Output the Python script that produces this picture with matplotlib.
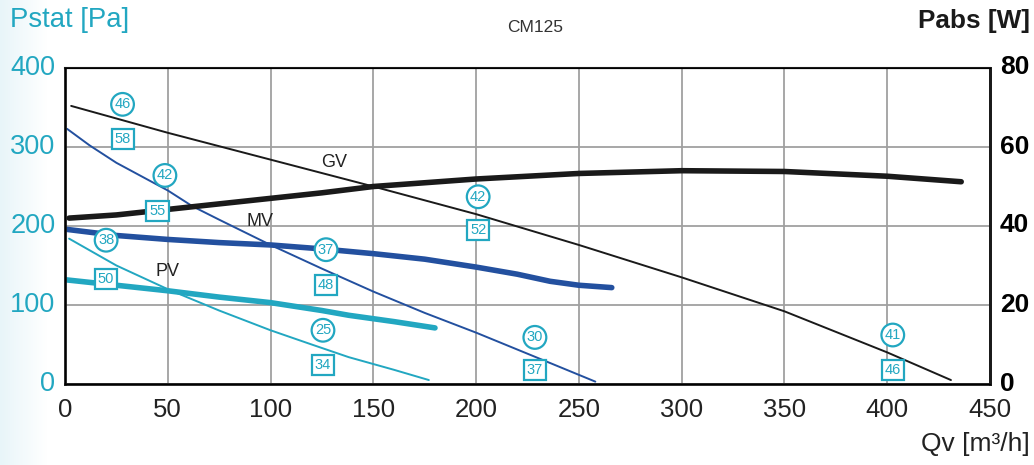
import numpy as np
import matplotlib
matplotlib.use("Agg")
import matplotlib.pyplot as plt
import matplotlib.transforms as mtransforms
from matplotlib.colors import LinearSegmentedColormap
from matplotlib.font_manager import fontManager

names = {f.name for f in fontManager.ttflist}
BASE = "Liberation Sans" if "Liberation Sans" in names else "DejaVu Sans"
NARROW = "Liberation Sans Narrow" if "Liberation Sans Narrow" in names else BASE
plt.rcParams['font.family'] = [BASE, 'DejaVu Sans']

# ---- data ----
# system curves (thin lines), Pstat [Pa]
gv_sys_q = [3, 50, 100, 150, 200, 250, 300, 350, 400, 431]
gv_sys_p = [352, 318, 284, 250, 215, 176, 135, 92, 40, 5]
mv_sys_q = [1, 12, 25, 50, 62, 75, 100, 125, 150, 175, 200, 230, 258]
mv_sys_p = [323, 302, 280, 245, 225, 208, 176, 146, 117, 90, 65, 33, 3]
pv_sys_q = [2, 25, 50, 75, 100, 120, 138, 160, 177]
pv_sys_p = [184, 150, 120, 93, 68, 50, 34, 18, 5]
# fan curves (thick lines)
gv_fan_q = [2, 25, 50, 75, 100, 125, 150, 200, 250, 300, 350, 400, 436]
gv_fan_p = [210, 214, 221, 228, 235, 242, 250, 259.5, 266.5, 270, 269, 263, 256]
mv_fan_q = [0, 25, 50, 75, 100, 125, 150, 175, 200, 220, 236, 250, 266]
mv_fan_p = [196, 188, 183, 179, 176, 171, 165, 158, 148, 139, 130, 125, 122]
pv_fan_q = [0, 25, 50, 75, 100, 125, 138, 160, 180]
pv_fan_p = [132, 125, 118, 110, 103, 93, 87, 79, 71]

# operating point labels: (q, p, text)
circle_labels = [(28, 354, "46"), (48.6, 264, "42"), (20, 182, "38"), (127, 170, "37"),
                 (125.5, 68, "25"), (201, 237, "42"), (228.6, 59, "30"), (402.7, 62, "41")]
square_labels = [(28, 310, "58"), (45, 219, "55"), (20, 133, "50"), (127, 125, "48"),
                 (125.5, 24, "34"), (201, 195, "52"), (228.6, 18, "37"), (402.7, 18, "46")]
curve_names = [(131, 281, "GV"), (95, 206, "MV"), (50, 143, "PV")]

x_ticks = [0, 50, 100, 150, 200, 250, 300, 350, 400, 450]
y_ticks = [0, 100, 200, 300, 400]
y2_ticks = [0, 20, 40, 60, 80]

CYAN = "#22a7c1"
BLUE = "#23509f"
BLACK = "#1a1a1a"

fig = plt.figure(figsize=(10.34, 4.65), dpi=100)

# left light gradient
bg = fig.add_axes([0, 0, 0.045, 1], zorder=-10)
grad = np.linspace(0, 1, 100)[None, :]
cm = LinearSegmentedColormap.from_list("g", ["#e8f5f9", "#ffffff"])
bg.imshow(grad, aspect="auto", cmap=cm, extent=[0, 1, 0, 1])
bg.axis("off")

ax = fig.add_axes([65/1034, 1-384/465, 925/1034, 316/465])
ax.set_xlim(0, 450)
ax.set_ylim(0, 400)
ax.set_xticks(x_ticks)
ax.set_yticks(y_ticks)
ax.grid(True, color="#a0a0a0", linewidth=1.3)
ax.set_axisbelow(True)
ax.tick_params(length=0)
ax.tick_params(axis='x', labelsize=18.5, pad=10, labelcolor="#222222")
ax.tick_params(axis='y', labelsize=19.5, pad=7, labelcolor=CYAN)
for s in ax.spines.values():
    s.set_color(BLACK)
    s.set_linewidth(2)
ax.spines['top'].set_linewidth(1.5)

ax2 = ax.twinx()
ax2.set_ylim(0, 80)
ax2.set_yticks(y2_ticks)
ax2.tick_params(length=0, labelsize=19, pad=7)
for lab in ax2.get_yticklabels():
    lab.set_fontweight("bold")
ax2.spines['right'].set_linewidth(2)
ax2.spines['right'].set_color(BLACK)

up = mtransforms.ScaledTranslation(0, 3/100, fig.dpi_scale_trans)
for lab in ax.get_yticklabels() + ax2.get_yticklabels():
    lab.set_transform(lab.get_transform() + up)

ax.plot(gv_sys_q, gv_sys_p, color=BLACK, lw=1.4, solid_capstyle='round')
ax.plot(mv_sys_q, mv_sys_p, color=BLUE, lw=1.4, solid_capstyle='round')
ax.plot(pv_sys_q, pv_sys_p, color=CYAN, lw=1.4, solid_capstyle='round')
ax.plot(gv_fan_q, gv_fan_p, color=BLACK, lw=4, solid_capstyle='round')
ax.plot(mv_fan_q, mv_fan_p, color=BLUE, lw=4, solid_capstyle='round')
ax.plot(pv_fan_q, pv_fan_p, color=CYAN, lw=4, solid_capstyle='round')

for q, p, t in circle_labels:
    ax.text(q, p, t, ha="center", va="center", fontsize=10.5, color=CYAN, zorder=5,
            bbox=dict(boxstyle="circle,pad=0.22", fc="white", ec=CYAN, lw=1.6))
for q, p, t in square_labels:
    ax.text(q, p, t, ha="center", va="center", fontsize=10.5, color=CYAN, zorder=5,
            bbox=dict(boxstyle="square,pad=0.2", fc="white", ec=CYAN, lw=1.6))
for q, p, t in curve_names:
    ax.text(q, p, t, ha="center", va="center", fontsize=13, color="#222222")

fig.text(10/1034, 1-20/465, "Pstat [Pa]", fontsize=19.8, color=CYAN, ha="left", va="center")
fig.text(1030/1034, 1-21/465, "Pabs [W]", fontsize=18.8, color=BLACK, fontweight="bold",
         ha="right", va="center")
fig.text(1030/1034, 1-444/465, "Qv [m³/h]", fontsize=19, color="#222222", ha="right",
         va="center")
fig.text(535/1034, 1-28/465, "CM125", fontsize=12.5, color="#333333", ha="center",
         va="center", family=[NARROW, 'DejaVu Sans'])

fig.savefig("out.png", dpi=100)
